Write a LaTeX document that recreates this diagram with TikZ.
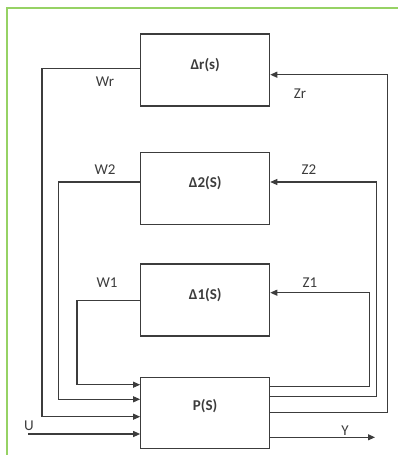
\documentclass[tikz,border=0pt]{standalone}
\usepackage{fontspec}
\setmainfont{Carlito}
\usetikzlibrary{arrows.meta}
\definecolor{framegreen}{RGB}{150,210,100}
\definecolor{ink}{RGB}{60,60,60}
\tikzset{
  blockbox/.style={draw=ink, line width=1.1pt, minimum width=129pt, minimum height=72pt, inner sep=0pt},
  blocktext/.style={font=\fontsize{15}{17}\selectfont\bfseries, text=ink},
  sig/.style={font=\fontsize{15}{17}\selectfont, text=ink, inner sep=0pt},
  wire/.style={draw=ink, line width=1.1pt},
  arr/.style={wire, -{Triangle[length=7pt,width=6pt]}},
}
\begin{document}
\begin{tikzpicture}[x=1pt,y=-1pt]
\useasboundingbox (0,0) rectangle (398,455);
\draw[framegreen, line width=1.6pt] (7,455) -- (7,8) -- (398,8);
\node[blockbox] (Dr) at (205.2,70) {};
\node[blockbox] (D2) at (205.2,188.7) {};
\node[blockbox] (D1) at (205.2,300) {};
\node[blockbox, minimum height=70.7pt] (P) at (205.2,412.7) {};
\node[blocktext] (tDr) at (205.2,65) {Δr(s)};
\node[blocktext] (tD2) at (205.2,183.5) {Δ2(S)};
\node[blocktext] (tD1) at (205.2,295) {Δ1(S)};
\node[blocktext] (tP) at (205.2,406.5) {P(S)};
% W paths
\draw[arr] (Dr.west |- 0,68.3) -- (42,68.3) |- (P.west |- 0,416.7);
\draw[arr] (D2.west |- 0,182) -- (58.3,182) |- (P.west |- 0,399.3);
\draw[arr] (D1.west |- 0,300.7) -- (77,300.7) |- (P.west |- 0,384.7);
% Z paths
\draw[arr] (P.east |- 0,412.7) -- (387.3,412.7) |- (Dr.east |- 0,74.7);
\draw[arr] (P.east |- 0,396.7) -- (376.7,396.7) |- (D2.east |- 0,182);
\draw[arr] (P.east |- 0,386.7) -- (369.3,386.7) |- (D1.east |- 0,292.7);
% U and Y
\coordinate (u) at (28,434);
\coordinate (y) at (375,437.3);
\draw[arr] (u) -- (P.west |- u);
\draw[arr] (P.east |- y) -- (y);
% labels
\node[sig] (lWr) at (105,81.7) {Wr};
\node[sig] (lZr) at (300,93.3) {Zr};
\node[sig] (lW2) at (105,169.3) {W2};
\node[sig] (lZ2) at (309,169.3) {Z2};
\node[sig] (lW1) at (107,282.7) {W1};
\node[sig] (lZ1) at (310,282.7) {Z1};
\node[sig] (lU) at (29,426) {U};
\node[sig] (lY) at (345,430.5) {Y};
\end{tikzpicture}
\end{document}
